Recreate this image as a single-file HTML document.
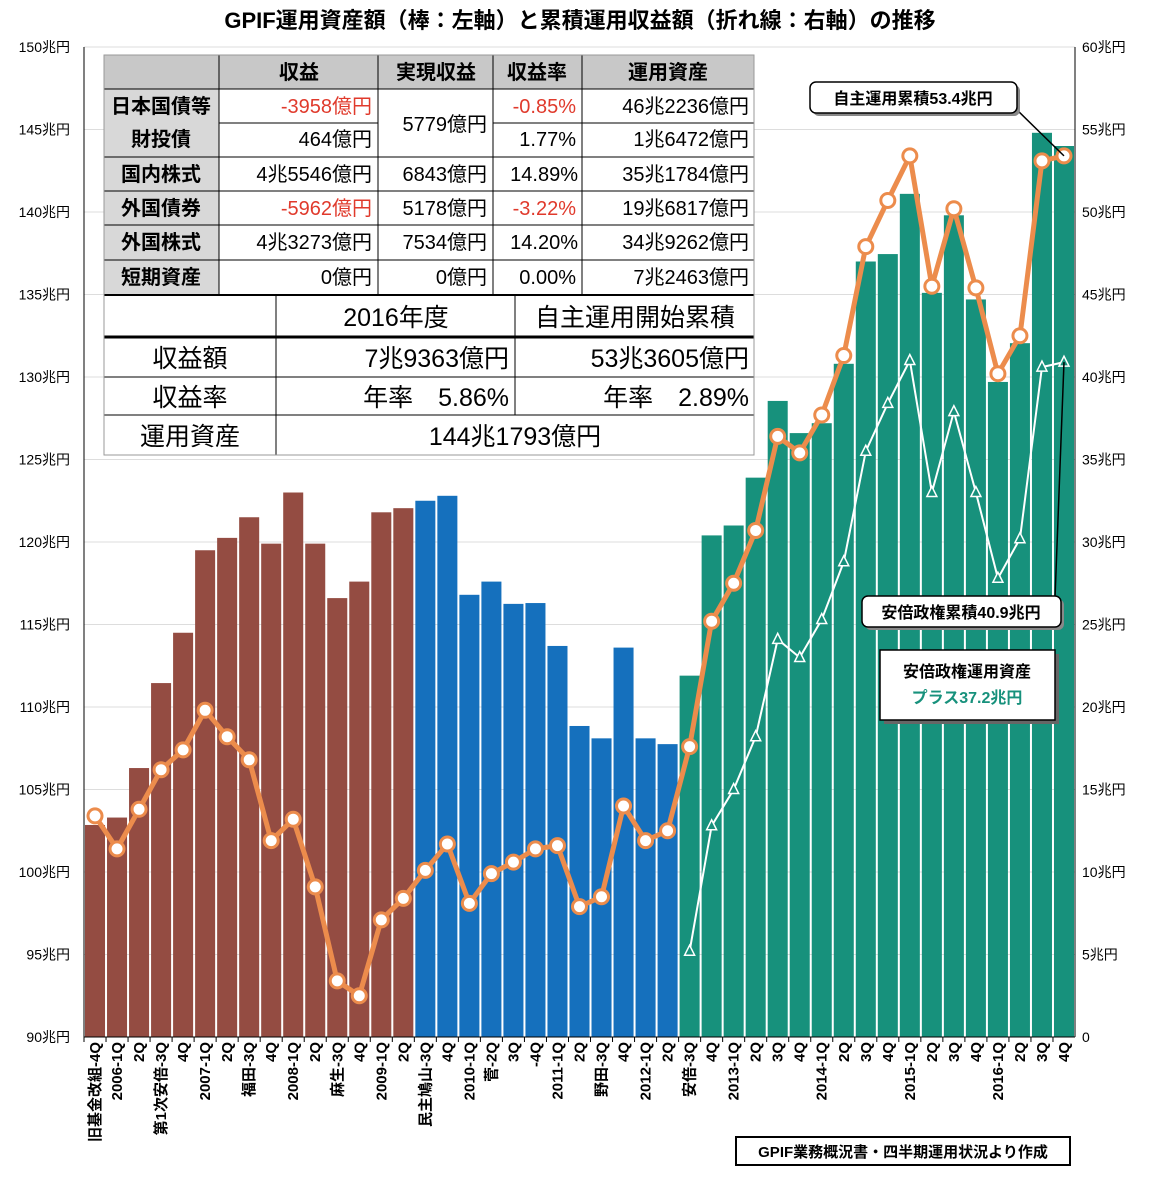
<!DOCTYPE html>
<html><head><meta charset="utf-8"><style>
body{margin:0;background:#fff;}
svg text{font-family:"Liberation Sans","Noto Sans CJK JP",sans-serif;}
</style></head><body>
<svg id="chart" width="1157" height="1182" xmlns="http://www.w3.org/2000/svg">
<text x="580" y="28" text-anchor="middle" font-size="22" font-weight="bold">GPIF運用資産額（棒：左軸）と累積運用収益額（折れ線：右軸）の推移</text>
<g id="grid"></g><g id="bars"></g><g id="lines"></g><g id="axes"></g>
</svg>
<script>
const categories=["旧基金改組-4Q","2006-1Q","2Q","第1次安倍-3Q","4Q","2007-1Q","2Q","福田-3Q","4Q","2008-1Q","2Q","麻生-3Q","4Q","2009-1Q","2Q","民主鳩山-3Q","4Q","2010-1Q","菅-2Q","3Q","-4Q","2011-1Q","2Q","野田-3Q","4Q","2012-1Q","2Q","安倍-3Q","4Q","2013-1Q","2Q","3Q","4Q","2014-1Q","2Q","3Q","4Q","2015-1Q","2Q","3Q","4Q","2016-1Q","2Q","3Q","4Q"];
const assets=[102.85,103.3,106.3,111.45,114.5,119.5,120.25,121.5,119.9,123.0,119.9,116.6,117.6,121.8,122.05,122.5,122.8,116.8,117.6,116.25,116.3,113.7,108.85,108.1,113.6,108.1,107.75,111.9,120.4,121.0,123.9,128.55,126.6,127.2,130.8,137.0,137.45,141.1,135.1,139.8,134.7,129.7,132.05,144.8,144.0];
const cumReturn=[13.4,11.4,13.8,16.2,17.4,19.8,18.2,16.8,11.9,13.2,9.1,3.4,2.5,7.1,8.4,10.1,11.7,8.1,9.9,10.6,11.4,11.6,7.9,8.5,14.0,11.9,12.5,17.6,25.2,27.5,30.7,36.4,35.4,37.7,41.3,47.9,50.7,53.4,45.5,50.2,45.4,40.2,42.5,53.1,53.4];
const abeReturn=[5.2,12.8,15.0,18.2,24.1,23.0,25.3,28.8,35.5,38.4,41.0,33.0,37.9,33.0,27.8,30.2,40.6,40.9];
const abeStart=27;
const leftTicks=[90,95,100,105,110,115,120,125,130,135,140,145,150];
const rightTicks=[0,5,10,15,20,25,30,35,40,45,50,55,60];
const rightLabels=["0","5兆円","10兆円","15兆円","20兆円","25兆円","30兆円","35兆円","40兆円","45兆円","50兆円","55兆円","60兆円"];
const NS="http://www.w3.org/2000/svg";
const X0=84,X1=1075,Y0=1037,Y1=47,N=categories.length,BW=(X1-X0)/N;
const yL=v=>Y0-(v-90)/60*(Y0-Y1);
const yR=v=>Y0-v/60*(Y0-Y1);
const xC=i=>X0+BW*(i+0.5);
function mk(p,t,a){const e=document.createElementNS(NS,t);for(const k in a)e.setAttribute(k,a[k]);p.appendChild(e);return e;}
const G=document.getElementById('grid'),B=document.getElementById('bars'),L=document.getElementById('lines'),A=document.getElementById('axes');
leftTicks.forEach((t,k)=>{const y=yL(t);
 const g=mk(G,'line',{x1:X0,x2:X1,y1:y,y2:y,stroke:'#ddd','stroke-width':1});
 
 
 const tx=mk(A,'text',{x:70,y:y+5,'text-anchor':'end','font-size':14});tx.textContent=t+'兆円';
 
 
 const tr=mk(A,'text',{x:1082,y:y+5,'font-size':14});tr.textContent=rightLabels[k];
 
 
});
assets.forEach((v,i)=>{const col=i<15?'#944c42':(i<27?'#1570bd':'#17917c');
 const r=mk(B,'rect',{x:X0+BW*i+1,y:yL(v),width:BW-2,height:Y0-yL(v),fill:col});
 
 
});
mk(A,'line',{x1:X0,x2:X0,y1:Y1,y2:Y0,stroke:'#000'});
mk(A,'line',{x1:X1,x2:X1,y1:Y1,y2:Y0,stroke:'#000'});
mk(A,'line',{x1:X0,x2:X1,y1:Y0,y2:Y0,stroke:'#000'});
categories.forEach((c,i)=>{const x=xC(i);
 mk(A,'line',{x1:X0+BW*i,x2:X0+BW*i,y1:Y0,y2:Y0+5,stroke:'#000'});
 const t=mk(A,'text',{x:0,y:0,'font-size':15,'font-weight':'bold','text-anchor':'end',transform:`translate(${x+5},1042) rotate(-90)`});
 t.textContent=c;
 
 
});
const op=cumReturn.map((v,i)=>xC(i)+','+yR(v)).join(' ');
const ol=mk(L,'polyline',{points:op,fill:'none',stroke:'#ec8c4c','stroke-width':5,'stroke-linejoin':'round'});


cumReturn.forEach((v,i)=>{const c=mk(L,'circle',{cx:xC(i),cy:yR(v),r:7,fill:'#fff',stroke:'#ec8c4c','stroke-width':3});
 
 });
const wp=abeReturn.map((v,i)=>xC(i+abeStart)+','+yR(v)).join(' ');
const wl=mk(L,'polyline',{points:wp,fill:'none',stroke:'#fff','stroke-width':2});


abeReturn.forEach((v,i)=>{const x=xC(i+abeStart),y=yR(v);
 const p=mk(L,'polygon',{points:`${x},${y-6} ${x-5},${y+4} ${x+5},${y+4}`,fill:'#17917c',stroke:'#fff','stroke-width':1.5});
 
 });
mk(L,'line',{x1:1015,y1:108,x2:xC(44),y2:yR(cumReturn[44]),stroke:'#000','stroke-width':1.5});
mk(L,'line',{x1:1055,y1:598,x2:xC(44),y2:yR(abeReturn[abeReturn.length-1]),stroke:'#000','stroke-width':1.5});
</script>
<svg style="position:absolute;left:0;top:0" width="1157" height="1182">
<g>
<rect x="813" y="85" width="207" height="31" rx="6" fill="#888"/>
<rect x="810" y="82" width="207" height="31" rx="6" fill="#fff" stroke="#000" stroke-width="1.5"/>
<text x="913" y="104" text-anchor="middle" font-size="16" font-weight="bold">自主運用累積53.4兆円</text></g>
<g>
<rect x="865" y="599" width="199" height="31" rx="6" fill="#888"/>
<rect x="862" y="596" width="199" height="31" rx="6" fill="#fff" stroke="#000" stroke-width="1.5"/>
<text x="961" y="618" text-anchor="middle" font-size="16" font-weight="bold">安倍政権累積40.9兆円</text></g>
<g>
<rect x="884" y="654" width="175" height="70" fill="#666"/>
<rect x="880" y="650" width="175" height="70" fill="#fff" stroke="#000" stroke-width="1.5"/>
<text x="967" y="677" text-anchor="middle" font-size="16" font-weight="bold">安倍政権運用資産</text>
<text x="967" y="703" text-anchor="middle" font-size="16" font-weight="bold" fill="#17917c">プラス37.2兆円</text></g>
<g>
<rect x="736" y="1137" width="334" height="28" fill="#fff" stroke="#000" stroke-width="2"/>
<text x="903" y="1157" text-anchor="middle" font-size="15" font-weight="bold">GPIF業務概況書・四半期運用状況より作成</text></g>
<g font-size="20">
<rect x="104" y="55" width="650" height="34" fill="#c8c8c8"/>
<rect x="104" y="89" width="115" height="206" fill="#d8d8d8"/>
<rect x="219" y="89" width="535" height="206" fill="#fff"/>
<rect x="104" y="295" width="650" height="160" fill="#fff"/>
<g stroke="#000" stroke-width="1">
<line x1="104" y1="89" x2="754" y2="89"/><line x1="104" y1="157" x2="754" y2="157"/><line x1="104" y1="191" x2="754" y2="191"/><line x1="104" y1="225" x2="754" y2="225"/><line x1="104" y1="260" x2="754" y2="260"/><line x1="104" y1="295" x2="754" y2="295" stroke-width="2"/>
<line x1="219" y1="123" x2="378" y2="123"/><line x1="493" y1="123" x2="754" y2="123"/>
<line x1="219" y1="55" x2="219" y2="295"/><line x1="378" y1="55" x2="378" y2="295"/><line x1="493" y1="55" x2="493" y2="295"/><line x1="582" y1="55" x2="582" y2="295"/>
<line x1="104" y1="337" x2="754" y2="337" stroke-width="3"/><line x1="104" y1="377" x2="754" y2="377"/><line x1="104" y1="415" x2="754" y2="415"/>
<line x1="276" y1="295" x2="276" y2="455"/><line x1="515" y1="295" x2="515" y2="415"/>
</g>
<rect x="104" y="55" width="650" height="400" fill="none" stroke="#999"/>
<g font-weight="bold" text-anchor="middle"><text x="299" y="79">収益</text><text x="436" y="79">実現収益</text><text x="537" y="79">収益率</text><text x="668" y="79">運用資産</text>
<text x="161" y="113">日本国債等</text><text x="161" y="146">財投債</text><text x="161" y="181">国内株式</text><text x="161" y="215">外国債券</text><text x="161" y="249">外国株式</text><text x="161" y="284">短期資産</text></g>
<g text-anchor="end"><text x="372" y="113" fill="#e03a2c">-3958億円</text><text x="372" y="146">464億円</text><text x="372" y="181">4兆5546億円</text><text x="372" y="215" fill="#e03a2c">-5962億円</text><text x="372" y="249">4兆3273億円</text><text x="372" y="284">0億円</text>
<text x="487" y="131">5779億円</text><text x="487" y="181">6843億円</text><text x="487" y="215">5178億円</text><text x="487" y="249">7534億円</text><text x="487" y="284">0億円</text>
<text x="576" y="113" fill="#e03a2c">-0.85%</text><text x="576" y="146">1.77%</text><text x="578" y="181">14.89%</text><text x="576" y="215" fill="#e03a2c">-3.22%</text><text x="578" y="249">14.20%</text><text x="576" y="284">0.00%</text>
<text x="749" y="113">46兆2236億円</text><text x="749" y="146">1兆6472億円</text><text x="749" y="181">35兆1784億円</text><text x="749" y="215">19兆6817億円</text><text x="749" y="249">34兆9262億円</text><text x="749" y="284">7兆2463億円</text></g>
<g font-size="25"><text x="396" y="326" text-anchor="middle">2016年度</text><text x="635" y="326" text-anchor="middle">自主運用開始累積</text>
<text x="190" y="367" text-anchor="middle">収益額</text><text x="190" y="406" text-anchor="middle">収益率</text><text x="190" y="445" text-anchor="middle">運用資産</text>
<g text-anchor="end"><text x="509" y="367">7兆9363億円</text><text x="749" y="367">53兆3605億円</text><text x="509" y="406">年率　5.86%</text><text x="749" y="406">年率　2.89%</text></g>
<text x="515" y="445" text-anchor="middle">144兆1793億円</text></g>
</g>
</svg>
</body></html>
